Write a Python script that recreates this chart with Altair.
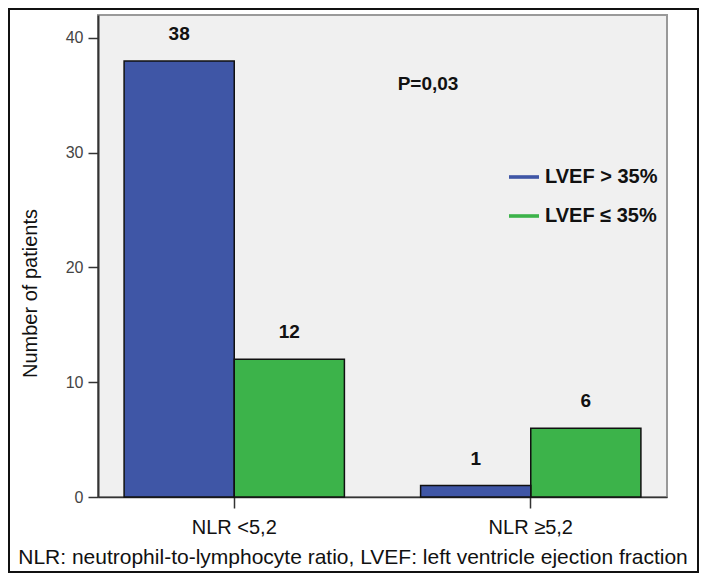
import altair as alt
import pandas as pd

groups = ["NLR <5,2", "NLR ≥5,2"]
series = ["LVEF > 35%", "LVEF ≤ 35%"]
lvef_high = [38, 1]
lvef_low = [12, 6]
colors = ["#3f56a6", "#3cb34a"]
y_ticks = [0, 10, 20, 30, 40]
p_text = "P=0,03"
caption = "NLR: neutrophil-to-lymphocyte ratio, LVEF: left ventricle ejection fraction"

rows = []
for i, g in enumerate(groups):
    rows.append({"group": g, "series": series[0], "value": lvef_high[i]})
    rows.append({"group": g, "series": series[1], "value": lvef_low[i]})
df = pd.DataFrame(rows)

W, H = 569, 482
FONT = "Liberation Sans"
LINE_SYMBOL = "M-1,-0.12L1,-0.12L1,0.12L-1,0.12Z"

x_enc = alt.X("group:N", sort=groups,
              scale=alt.Scale(paddingInner=0.257, paddingOuter=0.088),
              axis=alt.Axis(title=None, labelAngle=0, labelFontSize=20, labelColor="#111",
                            labelFont=FONT, labelPadding=9, tickSize=11, tickColor="#333",
                            tickWidth=1.5, domainColor="#333", domainWidth=1.5, grid=False))
xo_enc = alt.XOffset("series:N", sort=series, scale=alt.Scale(paddingInner=0, paddingOuter=0))
y_enc = alt.Y("value:Q", scale=alt.Scale(domain=[0, 42], nice=False),
              axis=alt.Axis(title="Number of patients", values=y_ticks, grid=False,
                            labelFontSize=16, labelColor="#444", labelFont=FONT, labelPadding=5,
                            tickSize=10, tickColor="#333", tickWidth=1.5,
                            domainColor="#333", domainWidth=2,
                            titleFontSize=20, titleFontWeight="normal", titleColor="#111",
                            titleFont=FONT, titleX=-58, titleY=278, titleAngle=-90))

color_enc = alt.Color("series:N", sort=series,
                      scale=alt.Scale(domain=series, range=colors),
                      legend=alt.Legend(title=None, orient="none", legendX=411, legendY=147,
                                        symbolType=LINE_SYMBOL, symbolSize=900,
                                        symbolStrokeWidth=0, labelFontSize=20,
                                        labelFontWeight="bold", labelFont=FONT,
                                        labelColor="#111", rowPadding=14, labelOffset=6))

bars = alt.Chart(df).mark_bar().encode(
    x=x_enc, xOffset=xo_enc, y=y_enc, color=color_enc)

outlines = alt.Chart(df).mark_bar(filled=False, stroke="#111", strokeWidth=1.5).encode(
    x=alt.X("group:N", sort=groups), xOffset=alt.XOffset("series:N", sort=series),
    y="value:Q")

labels = alt.Chart(df).mark_text(baseline="bottom", dy=-17, fontSize=19, fontWeight="bold",
                                 font=FONT, color="#111").encode(
    x=alt.X("group:N", sort=groups), xOffset=alt.XOffset("series:N", sort=series),
    y="value:Q", text="value:Q")

pdf = pd.DataFrame({"t": [p_text]})
ptext = alt.Chart(pdf).mark_text(fontSize=19, fontWeight="bold", font=FONT, color="#111",
                                 baseline="middle", align="center").encode(
    x=alt.value(330), y=alt.value(69), text="t:N")

cdf = pd.DataFrame({"t": [caption]})
ctext = alt.Chart(cdf).mark_text(fontSize=21, font=FONT, color="#111",
                                 baseline="middle", align="center").encode(
    x=alt.value(255), y=alt.value(543), text="t:N")

frame = alt.Chart(cdf).mark_rect(filled=False, stroke="#111", strokeWidth=2, clip=False).encode(
    x=alt.value(-89), x2=alt.value(W + 31), y=alt.value(-6), y2=alt.value(H + 75))

chart = alt.layer(bars, outlines, labels, ptext, ctext, frame).properties(
    width=W, height=H,
    autosize=alt.AutoSizeParams(type="none"),
    padding={"left": 90, "top": 7, "right": 32, "bottom": 76},
    background="white",
).configure_view(fill="#f0f0f0", stroke="#999", strokeWidth=2)

chart.save("out.html", embed_options={"renderer": "svg", "actions": False})
